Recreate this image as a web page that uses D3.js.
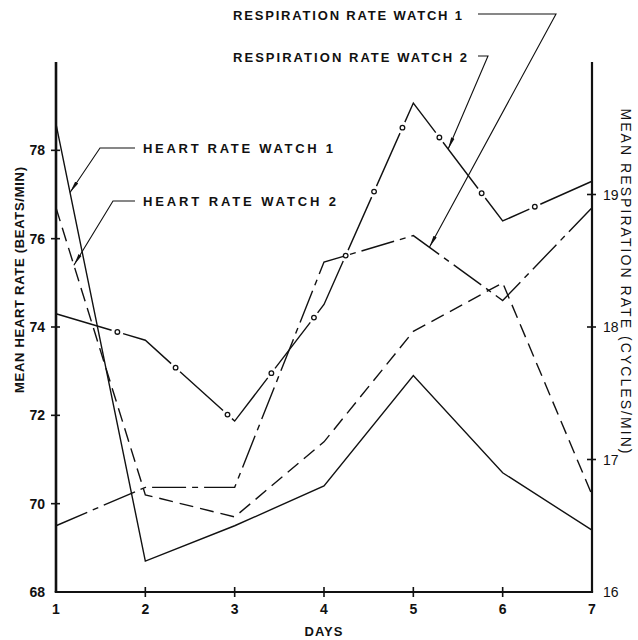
<!DOCTYPE html>
<html lang="en">

<head>
    <meta charset="UTF-8">
    <title>Heart and respiration rate</title>
    <style>
        body {
            margin: 0;
            padding: 0;
            background: #fff;
        }

        svg {
            display: block;
            background-color: #fff;
        }

        text {
            font-family: 'Liberation Sans', Arial, sans-serif;
            fill: #111;
        }
    </style>
</head>

<body>

    <script src="https://d3js.org/d3.v7.min.js"></script>
    <script>
        const days = [1, 2, 3, 4, 5, 6, 7]
        const heartWatch1 = [78.6, 68.7, 69.5, 70.4, 72.9, 70.7, 69.4]
        const heartWatch2 = [76.7, 70.2, 69.7, 71.4, 73.9, 75.0, 70.2]
        const respWatch1 = [16.5, 16.79, 16.79, 18.49, 18.69, 18.2, 18.9]
        const respWatch2 = [18.1, 17.9, 17.29, 18.17, 19.69, 18.8, 19.1]
        const heartTicks = [68, 70, 72, 74, 76, 78]
        const respTicks = [16, 17, 18, 19]

        const width = 638
        const height = 640

        function setAttr(sel, attrs) {
            Object.keys(attrs).forEach(k => sel.attr(k, attrs[k]))
        }

        const x = d3.scaleLinear().domain([1, 7]).range([56, 592])
        const yHeart = d3.scaleLinear().domain([68, 80]).range([592, 62])
        const yResp = d3.scaleLinear().domain([16, 20]).range([592, 62])

        const svg = d3.select('body')
            .append('svg')
            .call(setAttr, { width, height })

        svg.append('defs').append('marker')
            .call(setAttr, {
                id: 'head',
                viewBox: '0 -3 12 6',
                refX: 12,
                refY: 0,
                markerWidth: 12,
                markerHeight: 6,
                markerUnits: 'userSpaceOnUse',
                orient: 'auto'
            })
            .append('path')
            .attr('d', 'M0,-1.8L12,0L0,1.8Z')
            .attr('fill', '#111')

        // series
        const series = [
            { values: heartWatch1, y: yHeart, dash: null },
            { values: heartWatch2, y: yHeart, dash: '14,7' },
            { values: respWatch1, y: yResp, dash: '34,6,6,6' },
            { values: respWatch2, y: yResp, dash: '58,12', rings: true }
        ]

        series.forEach(s => {
            const line = d3.line()
                .x((d, i) => x(days[i]))
                .y(d => s.y(d))
            const p = svg.append('path')
                .datum(s.values)
                .call(setAttr, {
                    d: line,
                    fill: 'none',
                    stroke: '#111',
                    'stroke-width': 1.4,
                    'stroke-linejoin': 'miter'
                })
            if (s.dash) p.attr('stroke-dasharray', s.dash)
            if (s.rings) {
                const node = p.node()
                const total = node.getTotalLength()
                const pts = d3.range(64, total, 70).map(l => node.getPointAtLength(l))
                svg.selectAll(null)
                    .data(pts)
                    .join('circle')
                    .call(setAttr, {
                        cx: d => d.x,
                        cy: d => d.y,
                        r: 2.3,
                        fill: '#fff',
                        stroke: '#111',
                        'stroke-width': 1.3
                    })
            }
        })

        // axes
        const axisG = svg.append('g')
        axisG.append('line').call(setAttr, { x1: x(1), x2: x(1), y1: yHeart(80), y2: yHeart(68), stroke: '#111', 'stroke-width': 2.6 })
        axisG.append('line').call(setAttr, { x1: x(7), x2: x(7), y1: yResp(20), y2: yResp(16), stroke: '#111', 'stroke-width': 2.2 })
        axisG.append('line').call(setAttr, { x1: x(1) - 1.3, x2: x(7) + 1.1, y1: yHeart(68), y2: yHeart(68), stroke: '#111', 'stroke-width': 2.2 })

        axisG.selectAll('.ht')
            .data(heartTicks.slice(1))
            .join('line')
            .call(setAttr, { x1: x(1) - 5, x2: x(1) + 4, y1: d => yHeart(d), y2: d => yHeart(d), stroke: '#111', 'stroke-width': 1.6 })
        axisG.selectAll('.hl')
            .data(heartTicks)
            .join('text')
            .call(setAttr, { x: 45, y: d => yHeart(d), 'text-anchor': 'end', dy: '0.36em', 'font-size': 14, 'font-weight': 'bold' })
            .text(d => d)

        axisG.selectAll('.rt')
            .data(respTicks.slice(1))
            .join('line')
            .call(setAttr, { x1: x(7) - 5, x2: x(7) + 4, y1: d => yResp(d), y2: d => yResp(d), stroke: '#111', 'stroke-width': 1.6 })
        axisG.selectAll('.rl')
            .data(respTicks)
            .join('text')
            .call(setAttr, { x: 603, y: d => yResp(d), dy: '0.36em', 'font-size': 14 })
            .text(d => d)

        axisG.selectAll('.xt')
            .data(days.slice(1, 6))
            .join('line')
            .call(setAttr, { x1: d => x(d), x2: d => x(d), y1: 587, y2: 597, stroke: '#111', 'stroke-width': 1.6 })
        axisG.selectAll('.xl')
            .data(days)
            .join('text')
            .call(setAttr, { x: d => x(d), y: 609, dy: '0.36em', 'text-anchor': 'middle', 'font-size': 14, 'font-weight': 'bold' })
            .text(d => d)

        svg.append('text')
            .call(setAttr, { x: 324, y: 631, dy: '0.36em', 'text-anchor': 'middle', 'font-size': 13, 'font-weight': 'bold', 'letter-spacing': 1 })
            .text('DAYS')

        svg.append('text')
            .call(setAttr, { transform: 'translate(19,280) rotate(-90)', 'text-anchor': 'middle', dy: '0.36em', 'font-size': 13, 'font-weight': 'bold', textLength: 226, lengthAdjust: 'spacing' })
            .text('MEAN  HEART  RATE  (BEATS/MIN)')

        svg.append('text')
            .call(setAttr, { transform: 'translate(626,281) rotate(90)', 'text-anchor': 'middle', dy: '0.36em', 'font-size': 14, textLength: 345, lengthAdjust: 'spacing' })
            .text('MEAN  RESPIRATION  RATE  (CYCLES/MIN)')

        // labels with leader lines
        function at(values, scale, d) {
            const i = Math.floor(d) - 1
            const t = d - Math.floor(d)
            return [x(d), scale(values[i] + t * (values[i + 1] - values[i]))]
        }

        const notes = [
            { text: 'HEART  RATE  WATCH  1', tx: 143, ty: 148, len: 190, path: [[135, 148], [100, 148]], tip: at(heartWatch1, yHeart, 1.157) },
            { text: 'HEART  RATE  WATCH  2', tx: 143, ty: 201, len: 193, path: [[135, 201], [113, 201]], tip: at(heartWatch2, yHeart, 1.2) },
            { text: 'RESPIRATION  RATE  WATCH  1', tx: 233, ty: 15, len: 229, path: [[478, 14], [556, 14]], tip: at(respWatch1, yResp, 5.18) },
            { text: 'RESPIRATION  RATE  WATCH  2', tx: 233, ty: 57, len: 234, path: [[478, 56], [488, 56]], tip: at(respWatch2, yResp, 5.39) }
        ]

        notes.forEach(n => {
            svg.append('text')
                .call(setAttr, { x: n.tx, y: n.ty, dy: '0.36em', 'font-size': 13, 'font-weight': 'bold', textLength: n.len, lengthAdjust: 'spacing' })
                .text(n.text)
            svg.append('path')
                .datum(n.path.concat([n.tip]))
                .call(setAttr, {
                    d: d3.line(),
                    fill: 'none',
                    stroke: '#111',
                    'stroke-width': 1.1,
                    'marker-end': 'url(#head)'
                })
        })
    </script>

</body>

</html>
